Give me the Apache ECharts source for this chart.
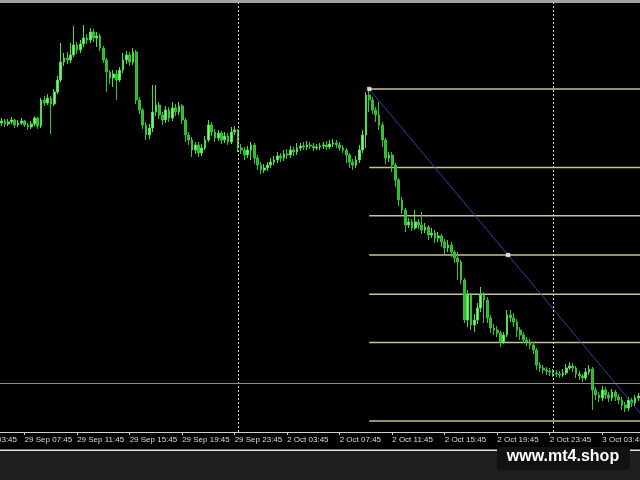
<!DOCTYPE html>
<html><head><meta charset="utf-8">
<script src="https://cdn.jsdelivr.net/npm/echarts@6/dist/echarts.min.js"></script>
<style>html,body{margin:0;padding:0;background:#000}#c{width:640px;height:480px}</style>
</head><body><div id="c"></div>
<script>
// M15 bars: day, first bar time, bar count
const dayBlocks = [['29 Sep','06:00',72],['2 Oct','00:00',96],['3 Oct','00:00',27]];
const separatorTimes = ['2 Oct 00:00','3 Oct 00:00'];

const openV = [
309,311,308,310,312,307,309,311,307,305,
308,314,306,332,329,334,328,340,352,370,
374,372,377,387,382,388,394,392,400,394,
396,384,372,360,354,358,352,362,372,377,
370,380,332,322,307,297,304,320,327,317,
312,322,314,324,320,326,312,297,292,282,
287,279,284,292,307,300,294,299,292,296,
290,300,302,284,282,277,282,287,274,267,
262,264,267,270,272,276,274,278,277,282,
280,284,286,285,287,286,284,285,286,287,
285,288,289,287,284,282,277,270,267,272,
282,297,337,332,322,317,307,292,274,277,
267,252,232,222,207,210,204,210,207,202,
205,197,199,194,196,190,184,187,180,174,
170,152,112,137,107,112,124,137,132,114,
104,102,99,90,97,117,114,110,102,97,
92,90,87,82,67,64,62,61,60,59,
58,57,59,64,66,64,58,56,54,60,
63,42,37,34,42,37,34,40,35,32,
27,24,32,29,34];
const closeV = [
311,308,310,312,307,309,311,307,305,308,
314,306,332,329,334,328,340,352,370,374,
372,377,387,382,388,394,392,400,394,396,
384,372,360,354,358,352,362,372,377,370,
380,332,322,307,297,304,320,327,317,312,
322,314,324,320,326,312,297,292,282,287,
279,284,292,307,300,294,299,292,296,290,
300,302,284,282,277,282,287,274,267,262,
264,267,270,272,276,274,278,277,282,280,
284,286,285,287,286,284,285,286,287,285,
288,289,287,284,282,277,270,267,272,282,
297,337,332,322,317,307,292,274,277,267,
252,232,222,207,210,204,210,207,202,205,
197,199,194,196,190,184,187,180,174,170,
152,112,137,107,112,124,137,132,114,104,
102,99,90,97,117,114,110,102,97,92,
90,87,82,67,64,62,61,60,59,58,
57,59,64,66,64,58,56,54,60,63,
42,37,34,42,37,34,40,35,32,27,
24,32,29,34,36];
const highV = [
314,313,313,315,313,312,314,312,309,311,
316,315,334,336,338,336,343,356,389,379,
380,389,406,390,392,407,398,404,403,400,
398,386,374,362,362,362,365,379,381,380,
384,382,335,324,310,308,347,347,330,320,
326,325,330,328,330,328,314,300,295,290,
290,288,296,312,310,303,302,301,300,299,
305,306,303,288,285,286,290,289,277,270,
268,270,274,276,280,279,282,283,286,285,
289,289,290,291,290,289,288,289,290,291,
292,293,292,290,287,284,279,273,276,287,
302,340,343,335,325,330,310,294,280,280,
269,254,235,224,214,213,222,213,220,209,
207,204,202,200,198,193,192,190,182,180,
172,154,142,139,118,129,145,140,135,117,
108,106,101,100,122,122,119,113,105,100,
95,93,90,84,70,67,65,64,63,62,
61,63,68,70,69,66,61,58,64,67,
65,45,40,46,45,40,43,42,38,35,
30,35,34,37,39];
const lowV = [
306,305,306,308,304,305,307,305,302,303,
306,303,304,326,327,298,326,338,350,366,
368,369,375,378,379,385,388,389,390,385,
381,369,340,348,345,332,350,359,368,366,
367,328,318,303,292,293,300,316,313,307,
309,310,311,316,317,308,290,287,275,278,
275,276,282,290,296,290,291,288,289,287,
288,297,280,278,272,274,272,268,262,258,
259,261,264,267,269,270,271,273,274,276,
277,281,282,282,283,281,282,282,283,282,
283,285,284,281,279,269,264,262,264,269,
279,284,320,318,310,302,285,268,270,260,
245,226,218,200,204,201,202,203,198,199,
192,194,189,190,185,178,180,175,169,152,
148,109,105,102,100,108,120,109,109,99,
97,95,85,88,95,110,105,95,92,89,
86,83,78,62,60,58,57,56,55,55,
54,55,57,62,60,54,52,50,52,57,
22,32,30,31,33,30,31,31,28,22,
20,21,25,26,31];

// Fibonacci retracement (levels 0, 23.6, 38.2, 50, 61.8, 76.4, 100)
const fibPrices = [343, 264.6, 216.2, 177, 137.8, 89.4, 11];
const fibStartBar = 112;
const trendLine = [[112, 343], [196.6, 11]];
const trendAnchors = [[112, 343], [154.3, 177]];
const horizontalLevel = 49;
const leftCutLabel = '29 Sep 03:45';

const categories = [];
for (const [d, start, n] of dayBlocks) {
  const [hh, mm] = start.split(':').map(Number);
  const t0 = hh * 60 + mm;
  for (let k = 0; k < n; k++) {
    const m = t0 + k * 15;
    categories.push(d + ' ' + String(Math.floor(m / 60)).padStart(2, '0') + ':' + String(m % 60).padStart(2, '0'));
  }
}
const candles = categories.map((_, i) => [openV[i], closeV[i], lowV[i], highV[i]]);
const showTick = (idx, val) => {
  const hm = String(val).slice(-5);
  return hm.endsWith(':45') && (+hm.slice(0, 2)) % 4 === 3;
};
const lastIdx = categories.length - 0.5;
const labelFont = "'Liberation Sans', Arial, sans-serif";

const chart = echarts.init(document.getElementById('c'), null, {renderer: 'canvas'});
const series = [{
  type: 'candlestick',
  xAxisIndex: 0, yAxisIndex: 0,
  data: candles,
  barWidth: 2.2,
  itemStyle: {color: '#80f580', color0: '#2cb82c', borderColor: '#4ae04a', borderColor0: '#34c434', borderWidth: 1},
  markLine: {
    silent: true, symbol: 'none', label: {show: false},
    data: [
      ...separatorTimes.map(t => ({xAxis: t, lineStyle: {color: '#d8d8d8', type: [2, 2], width: 1}})),
      {yAxis: horizontalLevel, lineStyle: {color: '#8e8e8e', type: 'solid', width: 1}}
    ]
  }
}];
fibPrices.forEach(p => series.push({
  type: 'line', xAxisIndex: 1, yAxisIndex: 0, silent: true,
  data: [[fibStartBar, p], [lastIdx, p]],
  showSymbol: false, lineStyle: {color: '#c4c494', width: 1.5}, z: 1
}));
series.push({
  type: 'line', xAxisIndex: 1, yAxisIndex: 0, silent: true, clip: true,
  data: trendLine, showSymbol: false, lineStyle: {color: '#3a3aa6', width: 1}, z: 3
});
series.push({
  type: 'scatter', xAxisIndex: 1, yAxisIndex: 0, silent: true,
  data: trendAnchors, symbol: 'rect', symbolSize: 4,
  itemStyle: {color: '#ffffff', borderColor: '#d8b0e0', borderWidth: 0.5}, z: 4
});

chart.setOption({
  animation: false,
  backgroundColor: '#000000',
  grid: {left: 0, right: 0, top: 0, bottom: 48, containLabel: false, outerBoundsMode: 'none'},
  xAxis: [{
    type: 'category', data: categories, boundaryGap: true,
    axisLine: {show: true, lineStyle: {color: '#d0d0d0', width: 1}},
    axisTick: {show: true, alignWithLabel: true, interval: showTick, length: 3, lineStyle: {color: '#d0d0d0'}},
    axisLabel: {show: true, interval: showTick, align: 'left', margin: 4, color: '#dcdcdc',
      fontSize: 8, fontFamily: labelFont, hideOverlap: false, showMinLabel: true, showMaxLabel: true},
    splitLine: {show: false}
  }, {
    type: 'value', min: -0.5, max: lastIdx, show: false, splitLine: {show: false}
  }],
  yAxis: [{type: 'value', min: 0, max: 432, show: false, splitLine: {show: false}}],
  series: series,
  graphic: [
    {type: 'rect', shape: {x: 0, y: 0, width: 640, height: 3}, style: {fill: '#a2a2a2'}, z: 10},
    {type: 'text', x: 17, y: 436, style: {text: leftCutLabel, fill: '#dcdcdc', font: '8px ' + labelFont, textAlign: 'right'}, z: 10},
    {type: 'rect', shape: {x: 0, y: 450, width: 640, height: 30}, style: {fill: '#1e1e1e'}, z: 10},
    {type: 'rect', shape: {x: 0, y: 449.5, width: 640, height: 1.5}, style: {fill: '#e4e4e4'}, z: 11},
    {type: 'rect', shape: {x: 497, y: 447, width: 133, height: 23, r: 3}, style: {fill: '#121212'}, z: 12},
    {type: 'text', x: 563, y: 457, style: {text: 'www.mt4.shop', fill: '#ffffff', font: 'bold 16px "Liberation Sans", Arial, sans-serif', textAlign: 'center', textVerticalAlign: 'middle'}, z: 13}
  ]
});
</script></body></html>
